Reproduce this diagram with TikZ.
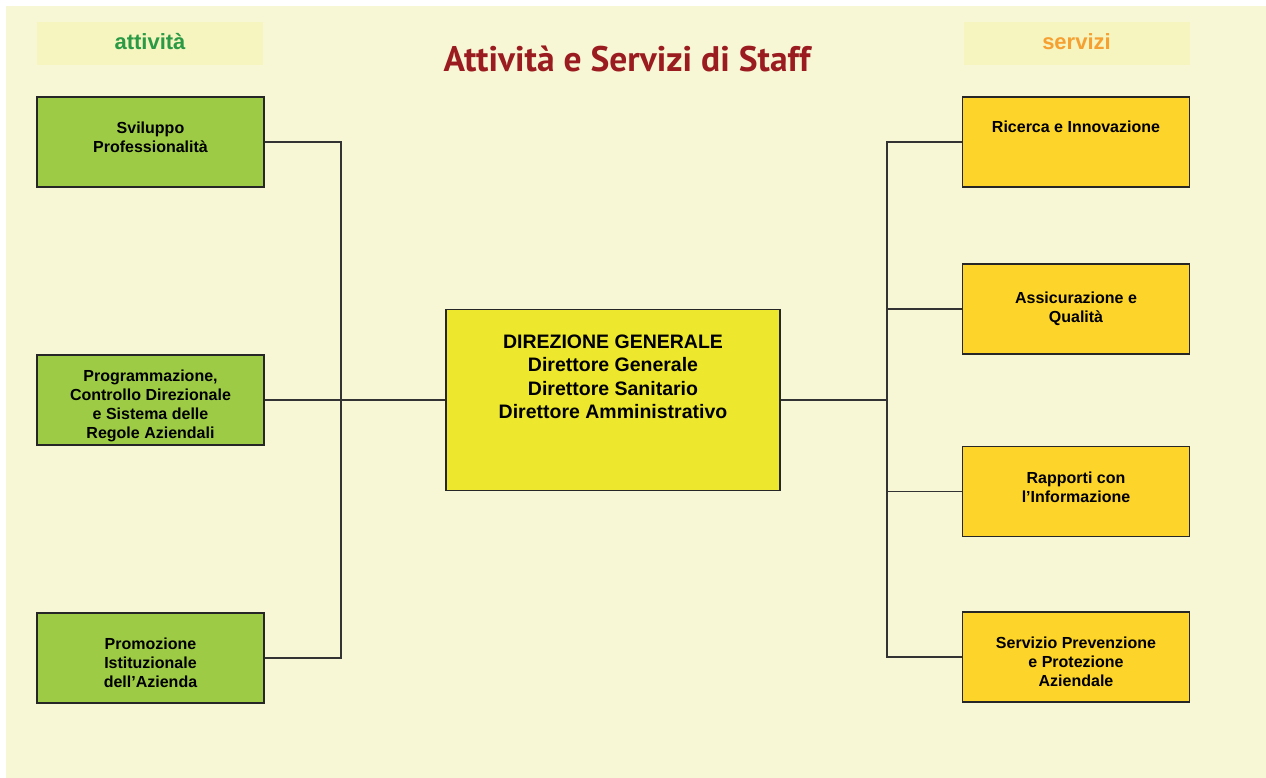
\documentclass[tikz,border=0pt]{standalone}
\usepackage{fontspec}
\usepackage{xcolor}
\usepackage{tikz}
\usetikzlibrary{calc,positioning}
\setmainfont{Liberation Sans}
\newfontfamily\titlefont{PT Sans}
\definecolor{crema}{HTML}{F8F7D5}
\definecolor{testata}{HTML}{F6F4BF}
\definecolor{verde}{HTML}{9DCB45}
\definecolor{giallo}{HTML}{EDE82D}
\definecolor{arancio}{HTML}{FDD42A}
\definecolor{rosso}{HTML}{9B1C20}
\definecolor{verdetesto}{HTML}{2A9A45}
\definecolor{aranciotesto}{HTML}{F5A031}
\begin{document}
\begin{tikzpicture}[x=1pt,y=-1pt,font=\bfseries\fontsize{16}{19}\selectfont]
\tikzset{box/.style={draw=black!85,line width=1.1pt,minimum width=227pt,minimum height=90pt,inner sep=0pt,align=center},
att/.style={box,fill=verde},
serv/.style={box,fill=arancio},
head/.style={fill=testata,minimum width=226pt,minimum height=43pt,inner sep=0pt},
link/.style={line width=1.1pt,draw=black!80}}
\useasboundingbox (0,0) rectangle (1266,778);
\fill[white] (0,0) rectangle (1266,778);
\fill[crema] (6,6) rectangle (1266,778);
% testate
\node[head] (hatt) at (150,43.5){};
\node[head] (hserv) at (1076.5,43.5){};
\node[anchor=base,text=verdetesto,font=\bfseries\fontsize{22}{24}\selectfont] (tatt) at (150,50){attività};
\node[anchor=base,text=aranciotesto,font=\bfseries\fontsize{22}{24}\selectfont] (tserv) at (1076.5,50){servizi};
\node[anchor=base,text=rosso,font=\titlefont\bfseries\fontsize{35.5}{38}\selectfont] (titolo) at (627,72){Attività e Servizi di Staff};
% attivita
\node[att] (svil) at (150.5,142){Sviluppo\\Professionalità\\[-9pt]\mbox{}};
\node[att] (prog) at (150.5,400){\rule{0pt}{24pt}Programmazione,\\Controllo Direzionale\\e Sistema delle\\Regole Aziendali};
\node[att] (prom) at (150.5,658){\rule{0pt}{22pt}Promozione\\Istituzionale\\dell’Azienda};
% direzione
\node[box,fill=giallo,minimum width=334pt,minimum height=181pt] (dg) at (613,400){};
\node[align=center,font=\bfseries\fontsize{19.5}{23.5}\selectfont] (dgtesto) at (613,377){DIREZIONE GENERALE\\Direttore Generale\\Direttore Sanitario\\Direttore Amministrativo};
% servizi
\node[serv] (ric) at (1076,142){Ricerca e Innovazione\\[11pt]\mbox{}};
\node[serv] (assic) at (1076,309){Assicurazione e\\Qualità};
\node[serv] (rapp) at (1076,491.5){Rapporti con\\l’Informazione\\[-11pt]\mbox{}};
\node[serv] (spp) at (1076,657){\rule{0pt}{22pt}Servizio Prevenzione\\e Protezione\\Aziendale};
% collegamenti
\coordinate (sx) at (341,400);
\coordinate (dx) at (887,400);
\draw[link] (svil.east) -| (sx) |- (prom.east);
\draw[link] (prog.east) -- (dg.west);
\draw[link] (dg.east) -- (dx);
\draw[link] (ric.west) -| (dx) |- (spp.west);
\draw[link] (assic.west) -- (assic.west -| dx);
\draw[link] (rapp.west) -- (rapp.west -| dx);
\end{tikzpicture}
\end{document}
